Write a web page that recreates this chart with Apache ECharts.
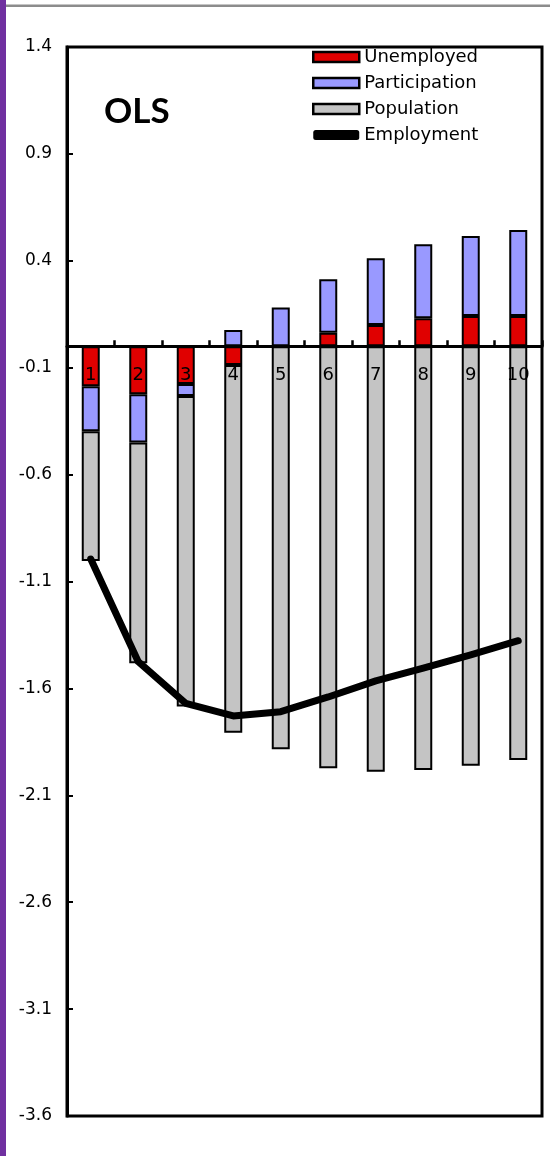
<!DOCTYPE html>
<html>
<head>
<meta charset="utf-8">
<script src="https://cdn.jsdelivr.net/npm/echarts@6/dist/echarts.min.js"></script>
<style>
html,body{margin:0;padding:0;background:#fff;}
#chart{width:550px;height:1156px;}
</style>
</head>
<body>
<div id="chart"></div>
<script>
const categories = ['1','2','3','4','5','6','7','8','9','10'];
const unemployed = [-0.187, -0.224, -0.176, -0.087, 0.0, 0.064, 0.100, 0.131, 0.142, 0.142];
const participation = [-0.210, -0.226, -0.056, 0.076, 0.182, 0.250, 0.312, 0.346, 0.374, 0.402];
const population = [-0.607, -1.032, -1.453, -1.720, -1.885, -1.974, -1.990, -1.982, -1.962, -1.935];
const employment = [-0.995, -1.475, -1.670, -1.729, -1.709, -1.640, -1.565, -1.505, -1.443, -1.377];
const yMin = -3.6, yMax = 1.4, yStep = 0.5;
const titleText = 'OLS';

const W = 550, H = 1156;
const gridTop = 47, gridBottom = 40, gridLeft = 67, gridRight = 8;
const gridH = H - gridTop - gridBottom;
// move the category axis from the bottom of the grid up to the value 0
const zeroOffset = -gridH * (0 - yMin) / (yMax - yMin);

const chart = echarts.init(document.getElementById('chart'), null, {renderer:'canvas'});
chart.setOption({
  animation:false,
  backgroundColor:'#fff',
  grid:{left:gridLeft, right:gridRight, top:gridTop, bottom:gridBottom, show:true, borderColor:'#000', borderWidth:3, backgroundColor:'transparent'},
  legend:{
    orient:'vertical', left:312, top:47, padding:0,
    itemWidth:46, itemHeight:10, itemGap:6,
    textStyle:{fontSize:18, fontFamily:'DejaVu Sans', color:'#000', lineHeight:20},
    itemStyle:{borderColor:'#000', borderWidth:2.5},
    data:[
      {name:'Unemployed', icon:'rect'},
      {name:'Participation', icon:'rect'},
      {name:'Population', icon:'rect'},
      {name:'Employment', icon:'roundRect', itemStyle:{color:'#000', borderWidth:0}}
    ]
  },
  graphic:[
    {type:'rect', shape:{x:0,y:0,width:6,height:H}, style:{fill:'#7030a0'}, silent:true},
    {type:'rect', shape:{x:6,y:4.5,width:W-6,height:2.5}, style:{fill:'#8c8c8c'}, silent:true},
    {type:'text', x:104, y:112, style:{text:titleText, font:'bold 35px Lato', fill:'#000', textVerticalAlign:'middle'}, z:20}
  ],
  xAxis:{
    type:'category', data:categories, z:10,
    position:'bottom', offset:zeroOffset,
    axisLine:{onZero:false, lineStyle:{color:'#000', width:3}},
    axisTick:{show:true, inside:true, length:6, lineStyle:{color:'#000', width:2.5}},
    axisLabel:{margin:20, fontSize:18, fontFamily:'DejaVu Sans', color:'#000'},
    splitLine:{show:false}
  },
  yAxis:{
    type:'value', min:yMin, max:yMax, interval:yStep, z:10,
    axisLine:{show:true, lineStyle:{color:'#000', width:3}},
    axisTick:{show:true, inside:true, length:6, lineStyle:{color:'#000', width:2}},
    axisLabel:{margin:15, fontSize:17, fontFamily:'DejaVu Sans', color:'#000', formatter:v=>v.toFixed(1)},
    splitLine:{show:false}
  },
  series:[
    {name:'Unemployed', type:'bar', stack:'total', barWidth:18, data:unemployed, itemStyle:{color:'#e00000', borderColor:'#000', borderWidth:2}},
    {name:'Participation', type:'bar', stack:'total', barWidth:18, data:participation, itemStyle:{color:'#9999ff', borderColor:'#000', borderWidth:2}},
    {name:'Population', type:'bar', stack:'total', barWidth:18, data:population, itemStyle:{color:'#c4c4c4', borderColor:'#000', borderWidth:2}},
    {name:'Employment', type:'line', data:employment, symbol:'none', z:5, color:'#000',
     lineStyle:{color:'#000', width:7, cap:'round', join:'round'}}
  ]
});
</script>
</body>
</html>
